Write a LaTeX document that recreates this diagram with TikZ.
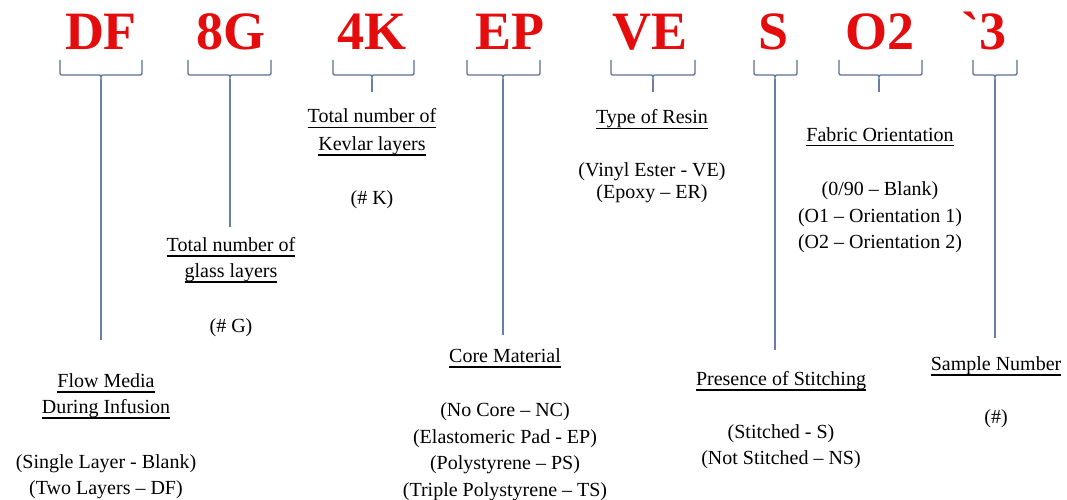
\documentclass[tikz,border=0pt]{standalone}
\usepackage{fontspec}
\setmainfont{Liberation Serif}
\newfontfamily\codefont{Liberation Serif}[Ligatures=TeXOff]
\newcommand\uln[1]{\leavevmode\setbox0\hbox{#1}\rlap{\vrule height -4.4pt depth 5.5pt width \wd0}\box0}
\definecolor{codered}{RGB}{228,12,12}
\definecolor{bracec}{RGB}{92,112,148}
\definecolor{linec}{RGB}{104,126,165}
\newcommand\brc[4]{%
  \draw[bracepath] (#1,60) -- (#1,71) .. controls (#1,75) .. (#1+4,75) -- (#2-4,75)
    .. controls (#2,75) .. (#2,79) .. controls (#2,75) .. (#2+4,75) -- (#3-4,75)
    .. controls (#3,75) .. (#3,71) -- (#3,60);
  \coordinate (#4) at (#2,79);}
\begin{document}
\begin{tikzpicture}[x=1pt,y=-1pt,
  code/.style={font=\codefont\fontsize{54}{60}\selectfont\bfseries, text=codered, anchor=base, inner sep=0},
  lbl/.style={font=\fontsize{20}{26}\selectfont, anchor=base, inner sep=0},
  bracepath/.style={draw=bracec, line width=1.3pt},
  conn/.style={draw=linec, line width=1.2pt}]
\useasboundingbox[fill=white] (0,0) rectangle (1067,500);
% codes
\node[code] (cDF) at (101,50) {DF};
\node[code] (c8G) at (231,50) {8G};
\node[code] (c4K) at (372,50) {4K};
\node[code] (cEP) at (510,50) {EP};
\node[code] (cVE) at (650,50) {VE};
\node[code] (cS)  at (774,50) {S};
\node[code] (cO2) at (880,50) {O2};
\node[code] (c3)  at (984,50) {`3};
% braces
\brc{60}{101}{142}{bDF}
\brc{188}{230}{271}{b8G}
\brc{333}{372}{414}{b4K}
\brc{467}{503}{540}{bEP}
\brc{611}{653}{695}{bVE}
\brc{754}{775}{797}{bS}
\brc{839}{879}{922}{bO2}
\brc{973}{995}{1017}{b3}
% line ends
\coordinate (eDF) at (101,340);
\coordinate (e8G) at (230,227);
\coordinate (e4K) at (372,92);
\coordinate (eEP) at (503,335);
\coordinate (eVE) at (653,92);
\coordinate (eS)  at (775,350);
\coordinate (eO2) at (879,92);
\coordinate (e3)  at (995,338);
\foreach \n in {DF,8G,4K,EP,VE,S,O2,3} \draw[conn] (b\n) -- (e\n);
% labels: DF
\node[lbl] (hDFa) at (106,387) {\uln{Flow Media}};
\node[lbl] (hDFb) at (106,413) {\uln{During Infusion}};
\node[lbl] (oDFa) at (106,468) {(Single Layer - Blank)};
\node[lbl] (oDFb) at (106,494) {(Two Layers – DF)};
% 8G
\node[lbl] (h8Ga) at (231,251) {\uln{Total number of}};
\node[lbl] (h8Gb) at (231,277) {\uln{glass layers}};
\node[lbl] (o8G)  at (231,332) {(\# G)};
% 4K
\node[lbl] (h4Ka) at (372,123) {\uln{Total number of}};
\node[lbl] (h4Kb) at (372,150) {\uln{Kevlar layers}};
\node[lbl] (o4K)  at (372,204) {(\# K)};
% EP
\node[lbl] (hEP)  at (505,362) {\uln{Core Material}};
\node[lbl] (oEPa) at (505,416) {(No Core – NC)};
\node[lbl] (oEPb) at (505,443) {(Elastomeric Pad - EP)};
\node[lbl] (oEPc) at (505,469) {(Polystyrene – PS)};
\node[lbl] (oEPd) at (505,496) {(Triple Polystyrene – TS)};
% VE
\node[lbl] (hVE)  at (652,124) {\uln{Type of Resin}};
\node[lbl] (oVEa) at (652,176) {(Vinyl Ester - VE)};
\node[lbl] (oVEb) at (652,198) {(Epoxy – ER)};
% O2
\node[lbl] (hO2)  at (880,141) {\uln{Fabric Orientation}};
\node[lbl] (oO2a) at (880,195) {(0/90 – Blank)};
\node[lbl] (oO2b) at (880,222) {(O1 – Orientation 1)};
\node[lbl] (oO2c) at (880,248) {(O2 – Orientation 2)};
% S
\node[lbl] (hS)   at (781,385) {\uln{Presence of Stitching}};
\node[lbl] (oSa)  at (781,438) {(Stitched - S)};
\node[lbl] (oSb)  at (781,464) {(Not Stitched – NS)};
% 3
\node[lbl] (h3)   at (996,370) {\uln{Sample Number}};
\node[lbl] (o3)   at (996,423) {(\#)};
\end{tikzpicture}
\end{document}
